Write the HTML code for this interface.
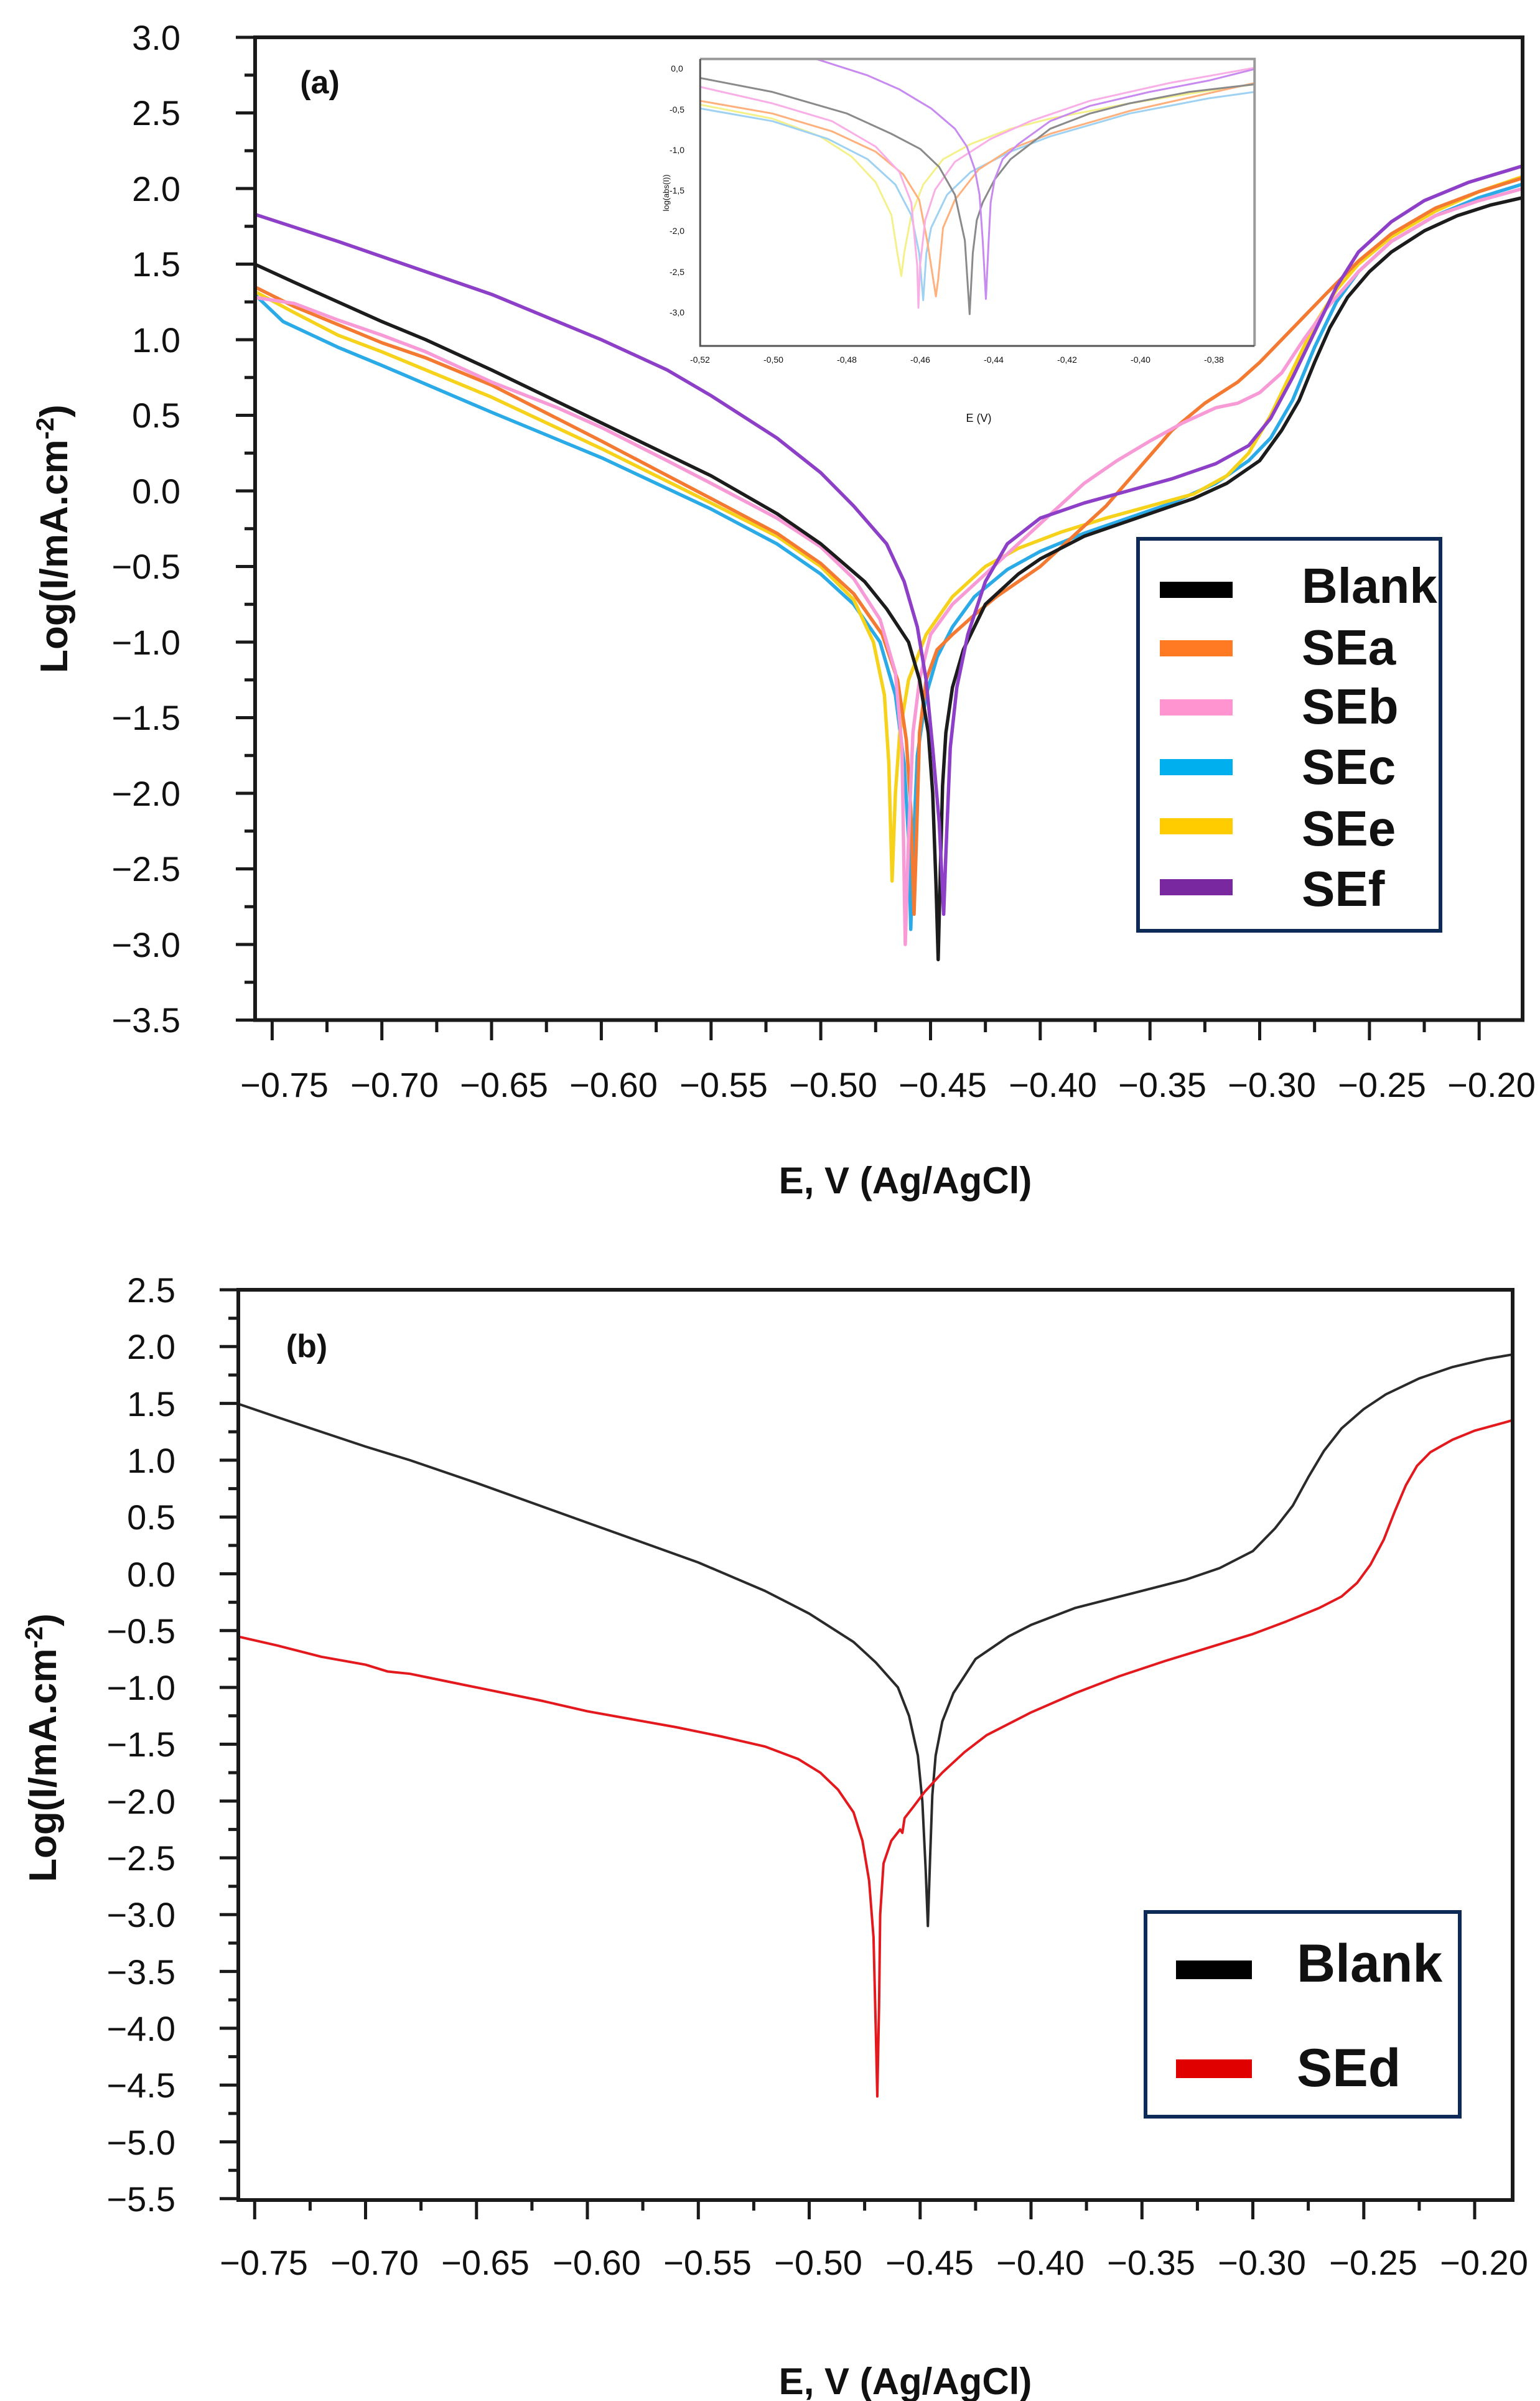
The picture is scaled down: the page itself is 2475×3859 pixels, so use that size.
<!DOCTYPE html>
<html><head><meta charset="utf-8"><style>
html,body{margin:0;padding:0;background:#fff}
svg{display:block}
text{font-family:"Liberation Sans",Arial,sans-serif;fill:#111}
.c{fill:none;stroke-linejoin:round;stroke-linecap:round;vector-effect:non-scaling-stroke}
</style></head><body>
<svg width="2475" height="3859" viewBox="0 0 2475 3859" xmlns="http://www.w3.org/2000/svg">
<defs>
<clipPath id="ca"><rect x="410" y="60" width="2037" height="1580"/></clipPath>
<clipPath id="cb"><rect x="383" y="2073" width="2048" height="1463"/></clipPath>
<clipPath id="ci"><rect x="118" y="85" width="1397" height="1130"/></clipPath>
</defs>

<!-- ============ PANEL A ============ -->
<g clip-path="url(#ca)">
<g transform="matrix(3.527 0 0 -2.43 3082.6 789)" stroke-width="5.5">
<polyline class="c" stroke="#2aaae6" points="-758,130 -745,112 -720,95 -700,83 -650,52 -600,22 -550,-12 -520,-35 -500,-55 -485,-75 -473,-100 -466,-135 -462,-180 -460,-230 -459,-290 -458,-240 -456,-175 -452,-135 -447,-110 -440,-90 -430,-70 -415,-52 -400,-40 -380,-28 -360,-18 -340,-8 -320,5 -305,20 -295,35 -285,60 -275,95 -265,125 -255,145 -240,165 -220,182 -200,194 -180,203"/>
<polyline class="c" stroke="#f6d21a" points="-758,132 -740,118 -720,103 -700,92 -650,62 -600,28 -550,-8 -520,-30 -500,-50 -485,-72 -476,-100 -471,-135 -469,-180 -467.5,-258 -466,-200 -464,-160 -460,-125 -452,-95 -440,-70 -425,-50 -410,-38 -390,-27 -370,-18 -350,-10 -330,-2 -315,10 -305,25 -295,50 -285,80 -275,110 -265,133 -255,150 -240,168 -220,185 -200,198 -180,208"/>
<polyline class="c" stroke="#f47a32" points="-758,135 -740,122 -720,110 -700,98 -680,88 -650,70 -600,33 -550,-5 -520,-28 -500,-48 -485,-68 -472,-95 -465,-125 -461,-165 -459,-210 -457.5,-280 -456.5,-235 -455,-160 -452,-125 -447,-105 -440,-95 -430,-82 -420,-70 -400,-50 -385,-30 -370,-10 -355,15 -340,40 -325,58 -310,72 -300,85 -290,100 -280,115 -270,130 -255,152 -240,170 -220,187 -200,198 -180,207"/>
<polyline class="c" stroke="#f79ad6" points="-758,128 -740,124 -720,113 -700,103 -680,92 -650,72 -620,55 -600,42 -570,20 -550,5 -520,-18 -500,-37 -485,-58 -473,-85 -466,-120 -463,-170 -461.5,-300 -460,-230 -458,-160 -455,-125 -450,-95 -440,-75 -425,-55 -410,-35 -395,-15 -380,5 -365,20 -350,33 -335,45 -320,55 -310,58 -300,65 -290,78 -280,100 -270,120 -255,145 -240,165 -220,182 -200,192 -180,200"/>
<polyline class="c" stroke="#1c1c1c" points="-758,150 -740,138 -720,125 -700,112 -680,100 -650,80 -600,45 -550,10 -520,-15 -500,-35 -480,-60 -470,-78 -460,-100 -455,-125 -451,-160 -449,-200 -447.5,-260 -446.5,-310 -445.5,-250 -444.5,-195 -443,-160 -440,-130 -435,-105 -425,-75 -410,-55 -400,-45 -380,-30 -350,-15 -330,-5 -315,5 -300,20 -290,40 -282,60 -275,85 -268,108 -260,128 -250,145 -240,158 -225,172 -210,182 -195,189 -180,194"/>
<polyline class="c" stroke="#8e3fc8" points="-758,183 -720,165 -700,155 -650,130 -600,100 -570,80 -550,63 -520,35 -500,12 -485,-10 -470,-35 -462,-60 -456,-90 -452,-125 -449,-170 -446,-220 -444,-280 -443,-240 -441,-170 -438,-130 -433,-95 -425,-60 -415,-35 -400,-18 -380,-8 -360,0 -340,8 -320,18 -305,30 -295,48 -285,75 -275,105 -265,135 -255,158 -240,178 -225,192 -205,204 -180,215"/>
</g>
</g>

<!-- inset -->
<g transform="matrix(0.6378 0 0 0.4082 1050 60)">
<rect x="118" y="85" width="1397" height="1130" fill="#fff" stroke="none"/>
<g clip-path="url(#ci)" stroke-width="3">
<polyline class="c" stroke="#f4f08a" points="118,265 300,320 420,390 500,470 560,570 600,700 615,850 625,940 632,850 650,700 680,580 730,480 800,420 900,360 1000,320 1200,260 1400,210 1515,185"/>
<polyline class="c" stroke="#9fd2f2" points="118,280 300,330 440,400 540,480 610,580 650,700 670,850 680,1035 688,850 700,750 740,620 800,530 900,450 1000,390 1200,300 1400,240 1515,215"/>
<polyline class="c" stroke="#ffb07c" points="118,250 300,300 450,370 560,450 630,540 670,640 690,800 705,950 712,1020 718,950 730,750 760,640 820,520 900,440 1000,380 1200,290 1400,220 1515,180"/>
<polyline class="c" stroke="#f9aee6" points="118,195 300,260 450,330 560,430 620,530 650,650 665,900 668,1065 672,900 685,720 710,600 760,490 850,400 950,330 1100,250 1300,180 1515,120"/>
<polyline class="c" stroke="#8a8a8a" points="118,160 300,215 488,300 600,380 673,440 720,510 760,620 785,800 797,1090 805,850 815,720 830,650 860,560 900,480 1000,360 1100,300 1200,260 1350,215 1515,185"/>
<polyline class="c" stroke="#c88af0" points="400,80 460,110 540,150 620,205 700,280 760,360 790,430 810,520 822,620 830,800 838,1030 845,800 850,650 860,560 880,480 920,420 1000,330 1100,270 1250,215 1400,170 1515,125"/>
</g>
<path d="M118,85 H1515 V1215" fill="none" stroke="#9a9a9a" stroke-width="4" vector-effect="non-scaling-stroke"/>
<path d="M118,85 V1215 H1515" fill="none" stroke="#555" stroke-width="3" vector-effect="non-scaling-stroke"/>
</g>
<!-- inset labels in real px -->
<g font-size="14" text-anchor="middle">
<text x="1088" y="115" fill="#a06070">0,0</text>
<text x="1088" y="181" fill="#a06070">-0,5</text>
<text x="1088" y="246" fill="#a06070">-1,0</text>
<text x="1088" y="311" fill="#a06070">-1,5</text>
<text x="1088" y="376" fill="#a06070">-2,0</text>
<text x="1088" y="442" fill="#a06070">-2,5</text>
<text x="1088" y="507" fill="#a06070">-3,0</text>
<text x="1125" y="583" fill="#a06070">-0,52</text>
<text x="1243" y="583" fill="#a06070">-0,50</text>
<text x="1361" y="583" fill="#a06070">-0,48</text>
<text x="1479" y="583" fill="#a06070">-0,46</text>
<text x="1597" y="583" fill="#a06070">-0,44</text>
<text x="1715" y="583" fill="#a06070">-0,42</text>
<text x="1833" y="583" fill="#a06070">-0,40</text>
<text x="1951" y="583" fill="#a06070">-0,38</text>
<text x="1573" y="678" font-size="18" fill="#444">E (V)</text>
<text x="1075" y="310" font-size="13" fill="#555" transform="rotate(-90 1075 310)">log(abs(I))</text>
</g>

<!-- frame A -->
<rect x="410" y="60" width="2037" height="1579.5" fill="none" stroke="#1a1a1a" stroke-width="6"/>
<path stroke="#1a1a1a" stroke-width="5" fill="none" d="M379,60H410M379,181.5H410M379,303H410M379,424.5H410M379,546H410M379,667.5H410M379,789H410M379,910.5H410M379,1032H410M379,1153.5H410M379,1275H410M379,1396.5H410M379,1518H410M379,1639.5H410
M393,120.75H410M393,242.25H410M393,363.75H410M393,485.25H410M393,606.75H410M393,728.25H410M393,849.75H410M393,971.25H410M393,1092.75H410M393,1214.25H410M393,1335.75H410M393,1457.25H410M393,1578.75H410
M437.4,1639V1672M613.7,1639V1672M790,1639V1672M966.4,1639V1672M1142.8,1639V1672M1319.1,1639V1672M1495.5,1639V1672M1671.8,1639V1672M1848.2,1639V1672M2024.5,1639V1672M2200.9,1639V1672M2377.2,1639V1672
M525.5,1639V1659M701.9,1639V1659M878.2,1639V1659M1054.6,1639V1659M1231,1639V1659M1407.3,1639V1659M1583.7,1639V1659M1760,1639V1659M1936.4,1639V1659M2112.7,1639V1659M2289,1639V1659"/>
<g font-size="56" text-anchor="end">
<text x="290" y="80">3.0</text><text x="290" y="201">2.5</text><text x="290" y="323">2.0</text><text x="290" y="444">1.5</text><text x="290" y="566">1.0</text><text x="290" y="687">0.5</text><text x="290" y="809">0.0</text><text x="290" y="930">−0.5</text><text x="290" y="1052">−1.0</text><text x="290" y="1173">−1.5</text><text x="290" y="1295">−2.0</text><text x="290" y="1416">−2.5</text><text x="290" y="1538">−3.0</text><text x="290" y="1659">−3.5</text>
</g>
<g font-size="56" text-anchor="middle">
<text x="457" y="1763">−0.75</text><text x="634" y="1763">−0.70</text><text x="810" y="1763">−0.65</text><text x="986" y="1763">−0.60</text><text x="1163" y="1763">−0.55</text><text x="1339" y="1763">−0.50</text><text x="1515" y="1763">−0.45</text><text x="1692" y="1763">−0.40</text><text x="1868" y="1763">−0.35</text><text x="2044" y="1763">−0.30</text><text x="2221" y="1763">−0.25</text><text x="2397" y="1763">−0.20</text>
</g>
<text x="514" y="150" font-size="52" font-weight="bold" text-anchor="middle">(a)</text>
<text x="1455" y="1918" font-size="60" font-weight="bold" text-anchor="middle">E, V (Ag/AgCl)</text>
<text x="0" y="0" font-size="62" font-weight="bold" text-anchor="middle" transform="translate(108 866) rotate(-90)">Log(I/mA.cm<tspan font-size="40" dy="-22">-2</tspan><tspan dy="22">)</tspan></text>

<!-- legend A -->
<rect x="1829" y="866" width="486" height="630" fill="#fff" stroke="#0e2a56" stroke-width="6"/>
<rect x="1864" y="935" width="117" height="26" fill="#000"/>
<rect x="1864" y="1029" width="117" height="26" fill="#ff7a22"/>
<rect x="1864" y="1124" width="117" height="26" fill="#ff94d0"/>
<rect x="1864" y="1220" width="117" height="26" fill="#00b0ee"/>
<rect x="1864" y="1315" width="117" height="26" fill="#ffcc00"/>
<rect x="1864" y="1413" width="117" height="26" fill="#7a28a0"/>
<g font-size="80" font-weight="bold">
<text x="2092" y="969">Blank</text><text x="2092" y="1068">SEa</text><text x="2092" y="1163">SEb</text><text x="2092" y="1260">SEc</text><text x="2092" y="1359">SEe</text><text x="2092" y="1456">SEf</text>
</g>

<!-- ============ PANEL B ============ -->
<g clip-path="url(#cb)">
<g transform="matrix(3.565 0 0 -1.826 3083 2529.5)" stroke-width="4">
<polyline class="c" stroke="#2a2a2a" points="-758,150 -740,138 -720,125 -700,112 -680,100 -650,80 -600,45 -550,10 -520,-15 -500,-35 -480,-60 -470,-78 -460,-100 -455,-125 -451,-160 -449,-200 -447.5,-260 -446.5,-310 -445.5,-250 -444.5,-195 -443,-160 -440,-130 -435,-105 -425,-75 -410,-55 -400,-45 -380,-30 -350,-15 -330,-5 -315,5 -300,20 -290,40 -282,60 -275,85 -268,108 -260,128 -250,145 -240,158 -225,172 -210,182 -195,189 -180,194"/>
<polyline class="c" stroke="#e3191e" points="-758,-55 -740,-63 -720,-73 -700,-80 -690,-86 -680,-88 -670,-92 -650,-100 -620,-112 -600,-121 -580,-128 -560,-135 -540,-143 -520,-152 -505,-163 -495,-175 -487,-190 -480,-210 -476,-235 -473,-270 -471,-320 -470,-400 -469.3,-460 -468.5,-380 -468,-300 -466.5,-255 -463,-235 -459,-225 -458,-228 -457,-215 -453,-205 -448,-192 -440,-175 -430,-157 -420,-142 -400,-122 -380,-105 -360,-90 -340,-77 -320,-65 -300,-53 -285,-42 -270,-30 -260,-20 -253,-8 -247,8 -241,30 -236,55 -231,78 -226,95 -220,107 -210,118 -200,126 -185,134 -180,137"/>
</g>
</g>
<rect x="383" y="2073" width="2048" height="1463" fill="none" stroke="#1a1a1a" stroke-width="6"/>
<path stroke="#1a1a1a" stroke-width="5" fill="none" d="M353,2073H383M353,2164.3H383M353,2255.6H383M353,2346.9H383M353,2438.2H383M353,2529.5H383M353,2620.8H383M353,2712.1H383M353,2803.4H383M353,2894.7H383M353,2986H383M353,3077.3H383M353,3168.6H383M353,3259.9H383M353,3351.2H383M353,3442.5H383M353,3533.8H383
M367,2118.7H383M367,2210H383M367,2301.3H383M367,2392.6H383M367,2483.9H383M367,2575.2H383M367,2666.5H383M367,2757.8H383M367,2849.1H383M367,2940.4H383M367,3031.7H383M367,3123H383M367,3214.3H383M367,3305.6H383M367,3396.9H383M367,3488.2H383
M409.3,3536V3567M587.5,3536V3567M765.8,3536V3567M944,3536V3567M1122.3,3536V3567M1300.5,3536V3567M1478.8,3536V3567M1657,3536V3567M1835.3,3536V3567M2013.5,3536V3567M2191.8,3536V3567M2370,3536V3567
M498.4,3536V3553M676.6,3536V3553M854.9,3536V3553M1033.1,3536V3553M1211.4,3536V3553M1389.6,3536V3553M1567.9,3536V3553M1746.1,3536V3553M1924.4,3536V3553M2102.6,3536V3553M2280.9,3536V3553"/>
<g font-size="56" text-anchor="end">
<text x="282" y="2093">2.5</text><text x="282" y="2184">2.0</text><text x="282" y="2276">1.5</text><text x="282" y="2367">1.0</text><text x="282" y="2458">0.5</text><text x="282" y="2550">0.0</text><text x="282" y="2641">−0.5</text><text x="282" y="2732">−1.0</text><text x="282" y="2823">−1.5</text><text x="282" y="2915">−2.0</text><text x="282" y="3006">−2.5</text><text x="282" y="3097">−3.0</text><text x="282" y="3189">−3.5</text><text x="282" y="3280">−4.0</text><text x="282" y="3371">−4.5</text><text x="282" y="3463">−5.0</text><text x="282" y="3554">−5.5</text>
</g>
<g font-size="56" text-anchor="middle">
<text x="424" y="3656">−0.75</text><text x="602" y="3656">−0.70</text><text x="780" y="3656">−0.65</text><text x="959" y="3656">−0.60</text><text x="1137" y="3656">−0.55</text><text x="1315" y="3656">−0.50</text><text x="1494" y="3656">−0.45</text><text x="1672" y="3656">−0.40</text><text x="1850" y="3656">−0.35</text><text x="2028" y="3656">−0.30</text><text x="2207" y="3656">−0.25</text><text x="2385" y="3656">−0.20</text>
</g>
<text x="493" y="2181" font-size="52" font-weight="bold" text-anchor="middle">(b)</text>
<text x="1455" y="3848" font-size="60" font-weight="bold" text-anchor="middle">E, V (Ag/AgCl)</text>
<text x="0" y="0" font-size="62" font-weight="bold" text-anchor="middle" transform="translate(90 2809) rotate(-90)">Log(I/mA.cm<tspan font-size="40" dy="-22">-2</tspan><tspan dy="22">)</tspan></text>

<rect x="1841" y="3073" width="505" height="329" fill="#fff" stroke="#0e2a56" stroke-width="6"/>
<rect x="1890" y="3151" width="122" height="30" fill="#000"/>
<rect x="1890" y="3310" width="122" height="30" fill="#e00000"/>
<g font-size="86" font-weight="bold">
<text x="2084" y="3185">Blank</text><text x="2084" y="3353">SEd</text>
</g>
</svg>
</body></html>
